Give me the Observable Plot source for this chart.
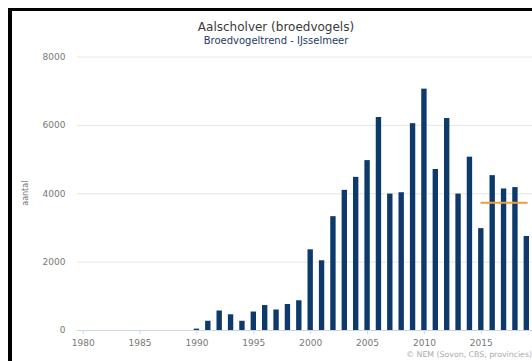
<!DOCTYPE html>
<html>
<head>
<meta charset="utf-8">
<script src="https://cdn.jsdelivr.net/npm/d3@7"></script>
<script src="https://cdn.jsdelivr.net/npm/@observablehq/plot@0.6"></script>
<style>
  html, body { margin: 0; padding: 0; background: #fff; overflow: hidden; }
  body { padding: 8px 0 0 8px; width: 532px; height: 361px; box-sizing: border-box; }
  #frame { position: relative; border-top: 3px solid #000; border-left: 4px solid #000; width: 520px; height: 350px; font-family: "DejaVu Sans", Verdana, sans-serif; }
  #title { position: absolute; left: 0; width: 528px; top: 9px; text-align: center; font-size: 12px; color: #3a3a3a; line-height: 14px; }
  #subtitle { position: absolute; left: 0; width: 528px; top: 24px; text-align: center; font-size: 10px; color: #1d3b66; line-height: 12px; }
  #caption { position: absolute; right: 0; top: 339px; font-size: 7.8px; color: #aaa; white-space: nowrap; line-height: 10px; }
  #chart { position: absolute; left: 0; top: 0; }
</style>
</head>
<body>
<div id="frame">
  <div id="chart"></div>
  <div id="title">Aalscholver (broedvogels)</div>
  <div id="subtitle">Broedvogeltrend - IJsselmeer</div>
  <div id="caption">© NEM (Sovon, CBS, provincies)</div>
</div>
<script>
const years = [1990,1991,1992,1993,1994,1995,1996,1997,1998,1999,2000,2001,2002,2003,2004,2005,2006,2007,2008,2009,2010,2011,2012,2013,2014,2015,2016,2017,2018,2019];
const counts = [40,270,570,460,270,540,730,600,760,870,2360,2040,3330,4100,4480,4970,6230,3990,4030,6050,7060,4710,6200,3990,5070,2980,4530,4140,4180,2750];
const trendYears = [2015, 2019];
const trendValues = [3740, 3740];
const xTicks = [1980, 1985, 1990, 1995, 2000, 2005, 2010, 2015];
const yTicks = [0, 2000, 4000, 6000, 8000];
const yLabel = ["aantal"];

const bars = years.map((year, i) => ({year, count: counts[i]}));
const trend = trendYears.map((year, i) => ({year, value: trendValues[i]}));

const chart = Plot.plot({
  width: 520,
  height: 350,
  marginTop: 45.5,
  marginBottom: 31,
  marginLeft: 65,
  marginRight: 0,
  style: {fontFamily: "DejaVu Sans, Verdana, sans-serif", background: "transparent", overflow: "visible"},
  x: {type: "linear", domain: [1979.5, 2019.5]},
  y: {domain: [0, 8000]},
  marks: [
    Plot.gridY(yTicks, {stroke: "#e6e6e6", strokeOpacity: 1}),
    Plot.axisY(yTicks, {tickSize: 0, tickPadding: 12, fontSize: 9, fill: "#777", tickFormat: d => String(d), label: null}),
    Plot.text(yLabel, {frameAnchor: "left", rotate: -90, dx: -52, dy: 12, fontSize: 8, fill: "#777"}),
    Plot.axisX(xTicks, {tickSize: 4, tickPadding: 5, fontSize: 9, fill: "#777", stroke: "#ccd6eb", tickFormat: d => String(d), label: null}),
    Plot.ruleY([0], {stroke: "#ccd6eb"}),
    Plot.rectY(bars, {x1: d => d.year - 0.5, x2: d => d.year + 0.5, y: "count", fill: "#0e3a6b", insetLeft: 3, insetRight: 3}),
    Plot.line(trend, {x: "year", y: "value", stroke: "#f0a030", strokeWidth: 2})
  ]
});
document.getElementById("chart").append(chart);
</script>
</body>
</html>
